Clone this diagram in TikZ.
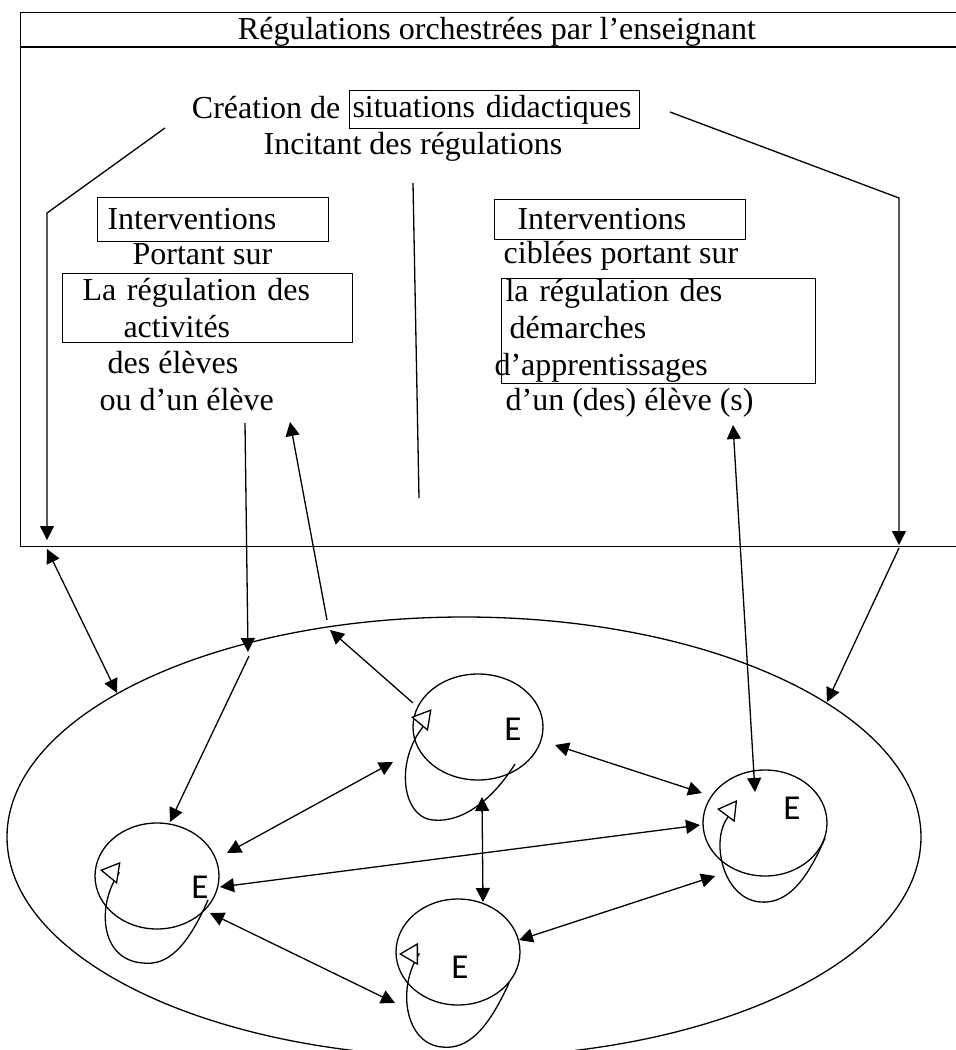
\documentclass[tikz,border=0pt]{standalone}
\usepackage{fontspec}
\setmainfont{Liberation Serif}
\newfontfamily\elevefont{Carlito}
\usetikzlibrary{arrows.meta,shapes.geometric,calc}

\begin{document}
\begin{tikzpicture}[x=1pt,y=-1pt,line width=1.3pt,
  >={Triangle[length=14pt,width=14pt]},
  lbl/.style={font=\fontsize{32}{36.7}\selectfont, inner sep=0pt},
  tbox/.style={draw, line width=1pt, font=\fontsize{32}{36.7}\selectfont,
    align=left, inner ysep=0pt, anchor=north west},
  pupil/.style={draw, ellipse, minimum width=124pt, minimum height=106pt, inner sep=0pt},
  letter/.style={font=\elevefont\fontsize{35}{35}\selectfont, inner sep=0pt},
  selfloop/.style={-{Triangle[open,fill=white,length=19pt,width=22pt]}}]

\useasboundingbox (0,0) rectangle (956,1050);
\clip (0,0) rectangle (956,1050);

% ---- teacher frame ----
\node[draw, line width=1.3pt, anchor=north west, minimum width=980pt,
      minimum height=534pt, inner sep=0pt] (frame) at (20,12) {};
\coordinate (sepL) at (20,47);
\coordinate (sepR) at (990,47);
\draw[line width=1.3pt] (sepL) -- (sepR);

\node[lbl, anchor=base] (title) at (497,39) {Régulations orchestrées par l’enseignant};
\node[lbl, anchor=base east] (creation) at (341,118) {Création de};
\node[tbox, text width=284pt, inner xsep=3pt, minimum height=38pt] (situations) at (349,90) {situations didactiques};
\node[lbl, anchor=base] (incitant) at (413,154) {Incitant des régulations};

% left column
\node[tbox, text width=211pt, inner xsep=10pt, minimum height=44pt] (intL) at (97,197) {Interventions};
\node[lbl, anchor=base west] (portL) at (132,264) {Portant sur};
\node[tbox, text width=250pt, inner xsep=20pt, minimum height=69pt] (regL) at (62,273) {La régulation des\\\hspace*{41pt}activités};
\node[lbl, anchor=base west] (elevesL) at (107,373) {des élèves};
\node[lbl, anchor=base west] (unL) at (99,410) {ou d’un élève};

% right column
\node[tbox, text width=205pt, inner xsep=23pt, minimum height=40pt] (intR) at (494,199) {Interventions};
\node[lbl, anchor=base west] (portR) at (503,263) {ciblées portant sur};
\node[tbox, text width=306pt, inner xsep=4pt, minimum height=105pt] (regR) at (501,278) {la régulation des\\\hspace*{4pt}démarches\\\hspace*{-11pt}d’apprentissages};
\node[lbl, anchor=base west] (elevesR) at (505,410) {d’un (des) élève (s)};

% ---- class and pupils ----
\node[draw, ellipse, minimum width=914pt, minimum height=440pt, inner sep=0pt] (cls) at (464,837) {};
\node[pupil] (e1) at (157,876) {};
\node[pupil, minimum width=130pt] (e2) at (478,727) {};
\node[pupil] (e3) at (458,952) {};
\node[pupil] (e4) at (765,823) {};

\node[letter] (l1) at ($(e1)+(43,11)$) {E};
\node[letter] (l2) at ($(e2)+(35,2)$) {E};
\node[letter] (l3) at ($(e3)+(2,15)$) {E};
\node[letter] (l4) at ($(e4)+(27,-15)$) {E};

% ---- connectors in the frame ----
\coordinate (dl0) at (165,128);
\coordinate (dl1) at (47,213);
\coordinate (dl2) at (47,540);
\draw[->] (dl0) -- (dl1) -- (dl2);

\coordinate (dr0) at (670,112);
\coordinate (dr1) at (899,198);
\coordinate (dr2) at (899,545);
\draw[->] (dr0) -- (dr1) -- (dr2);

\coordinate (mid0) at (413,183);
\coordinate (mid1) at (419,498);
\draw (mid0) -- (mid1);

% ---- frame <-> class ----
\coordinate (fl) at (47,549);
\coordinate (cl) at (117,693);
\draw[<->] (fl) -- (cl);

\coordinate (dn0) at (245,423);
\coordinate (dn1) at (248,652);
\draw[->] (dn0) -- (dn1);
\coordinate (dn2) at (249,656);
\draw[->] (dn2) -- ($(e1)+(13,-54)$);

\coordinate (up0) at (327,620);
\coordinate (up1) at (290,422);
\draw[->] (up0) -- (up1);
\coordinate (cu) at (330,630);
\draw[->] ($(e2)+(-65,-24)$) -- (cu);

\coordinate (rt) at (733,425);
\draw[<->] (rt) -- ($(e4)+(-10,-31)$);

\coordinate (fr) at (899,548);
\coordinate (cr) at (827,702);
\draw[->] (fr) -- (cr);

% ---- pupil <-> pupil ----
\draw[<->] ($(e1)+(70,-23)$) -- ($(e2)+(-85,35)$);
\draw[<->] ($(e1)+(63,11)$) -- ($(e4)+(-65,2)$);
\draw[<->] ($(e1)+(53,37)$) -- ($(e3)+(-63,51)$);
\draw[<->] ($(e2)+(77,18)$) -- ($(e4)+(-63,-30)$);
\draw[<->] ($(e2)+(4,70)$) -- ($(e3)+(25,-50)$);
\draw[<->] ($(e3)+(61,-12)$) -- ($(e4)+(-50,53)$);

% ---- self-regulation loops ----
\begin{scope}[shift={(e1)}]
  \draw[selfloop] (51,24) .. controls (30,72) and (10,90) .. (-14,87)
    .. controls (-58,84) and (-60,28) .. (-38,-3) -- (-57,-6);
\end{scope}
\begin{scope}[shift={(e2)}]
  \draw[selfloop] (37,37) .. controls (15,72) and (-15,96) .. (-45,93)
    .. controls (-78,90) and (-84,28) .. (-49,-7) -- (-67,-10);
\end{scope}
\begin{scope}[shift={(e3)}]
  \draw[selfloop] (51,31) .. controls (30,77) and (10,98) .. (-16,95)
    .. controls (-52,92) and (-62,38) .. (-39,2) -- (-59,2);
\end{scope}
\begin{scope}[shift={(e4)}]
  \draw[selfloop] (60,15) .. controls (40,62) and (20,81) .. (-5,79)
    .. controls (-47,75) and (-57,3) .. (-30,-12) -- (-48,-14);
\end{scope}
\end{tikzpicture}
\end{document}
